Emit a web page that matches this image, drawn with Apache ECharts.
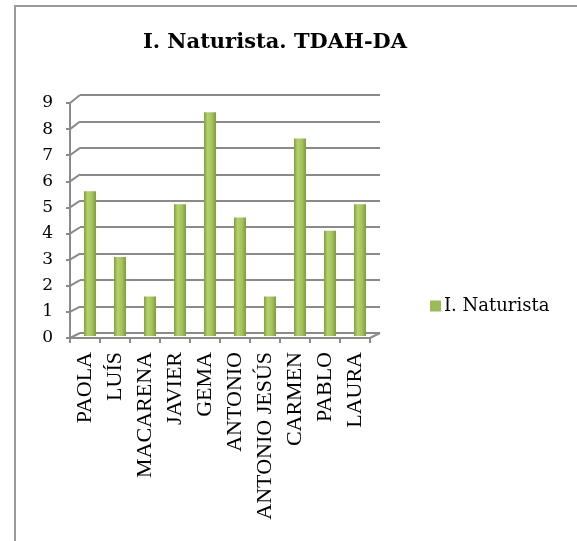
<!DOCTYPE html>
<html>
<head>
<meta charset="utf-8">
<script src="https://cdn.jsdelivr.net/npm/echarts@6/dist/echarts.min.js"></script>
<style>
  html, body { margin: 0; padding: 0; background: #fff; }
  #chart { width: 577px; height: 541px; }
</style>
</head>
<body>
<div id="chart"></div>
<script>
// nombres de los alumnos
const alumnos = ['PAOLA', 'LUÍS', 'MACARENA', 'JAVIER', 'GEMA', 'ANTONIO', 'ANTONIO JESÚS', 'CARMEN', 'PABLO', 'LAURA'];
// puntuación I. Naturista
const naturista = [5.5, 3, 1.5, 5, 8.5, 4.5, 1.5, 7.5, 4, 5];
// marcas del eje vertical
const yTicks = [0, 1, 2, 3, 4, 5, 6, 7, 8, 9];

const gris = '#8a8a8a';
const chart = echarts.init(document.getElementById('chart'));

// degradado tipo cilindro
const verde = new echarts.graphic.LinearGradient(0, 0, 1, 0, [
  { offset: 0, color: '#80a040' },
  { offset: 0.3, color: '#b5d06b' },
  { offset: 0.65, color: '#a5c45c' },
  { offset: 1, color: '#7e9c3d' }
]);

const option = {
  backgroundColor: '#fff',
  title: {
    text: 'I. Naturista. TDAH-DA',
    left: 270,
    top: 27,
    textAlign: 'center',
    textStyle: { fontFamily: 'DejaVu Serif', fontWeight: 'bold', fontSize: 21, color: '#000' }
  },
  legend: {
    left: 425,
    top: 292,
    itemWidth: 11,
    itemHeight: 11,
    itemGap: 4,
    icon: 'rect',
    textStyle: { fontFamily: 'DejaVu Serif', fontSize: 18, color: '#000', padding: [0, 0, 0, -2] }
  },
  graphic: [{
    type: 'rect',
    shape: { x: 15, y: 6, width: 700, height: 700 },
    style: { fill: 'none', stroke: '#999', lineWidth: 2 },
    silent: true
  }],
  grid: [
    { left: 70, top: 103, width: 300, height: 235 },   // frente
    { left: 75, top: 99, width: 300, height: 237 },    // barras
    { left: 80, top: 95, width: 300, height: 238 }     // fondo
  ],
  xAxis: [
    {
      gridIndex: 0, type: 'category', data: alumnos,
      axisLine: { lineStyle: { color: gris, width: 2 } },
      axisTick: { show: true, length: 5, lineStyle: { color: gris, width: 2 } },
      axisLabel: { rotate: 90, margin: 14, fontFamily: 'Liberation Serif', fontSize: 22, color: '#000', interval: 0 }
    },
    { gridIndex: 1, type: 'category', data: alumnos, show: false },
    { gridIndex: 2, type: 'category', data: alumnos, show: false }
  ],
  yAxis: [
    {
      gridIndex: 0, type: 'value', min: 0, max: 9, interval: 1,
      axisLine: { show: true, lineStyle: { color: gris, width: 2 } },
      axisTick: { show: true, length: 4, lineStyle: { color: gris, width: 2 } },
      axisLabel: { margin: 17, fontFamily: 'DejaVu Serif', fontSize: 17, color: '#000' },
      splitLine: { show: false }
    },
    { gridIndex: 1, type: 'value', min: 0, max: 9, interval: 1, show: false },
    {
      gridIndex: 2, type: 'value', min: 0, max: 9, interval: 1,
      axisLine: { show: false }, axisTick: { show: false }, axisLabel: { show: false },
      splitLine: { show: true, lineStyle: { color: gris, width: 2 } }
    }
  ],
  series: [
    {
      name: 'I. Naturista',
      type: 'bar',
      xAxisIndex: 1, yAxisIndex: 1,
      data: naturista,
      barWidth: 12,
      itemStyle: { color: verde },
      z: 5
    },
    {
      // diagonales de la pared lateral y del suelo
      type: 'custom',
      xAxisIndex: 2, yAxisIndex: 2,
      data: yTicks,
      silent: true,
      z: 1,
      renderItem: function (params, api) {
        const v = api.value(0);
        const band = api.size([1, 0])[0];
        const p = api.coord([0, v]);
        const xl = p[0] - band / 2;
        const dy = 5 + v / 3;
        const children = [{
          type: 'line',
          shape: { x1: xl, y1: p[1], x2: xl - 10, y2: p[1] + dy },
          style: { stroke: gris, lineWidth: 2 }
        }];
        if (v === 0) {
          const q = api.coord([alumnos.length - 1, 0]);
          const xr = q[0] + band / 2;
          children.push({
            type: 'line',
            shape: { x1: xr, y1: q[1], x2: xr - 10, y2: q[1] + dy },
            style: { stroke: gris, lineWidth: 2 }
          });
        }
        return { type: 'group', children: children };
      },
      encode: { y: 0 }
    }
  ]
};

option.legend.data = [{ name: 'I. Naturista', itemStyle: { color: '#9bbb59' } }];
chart.setOption(option);
</script>
</body>
</html>
